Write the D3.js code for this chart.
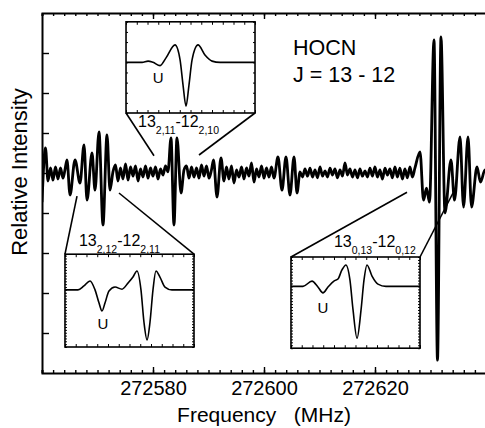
<!DOCTYPE html>
<html>
<head>
<meta charset="utf-8">
<script src="https://cdn.jsdelivr.net/npm/d3@7"></script>
<style>
  body { margin: 0; background: #fff; }
  svg { display: block; font-family: "Liberation Sans", Arial, Helvetica, sans-serif; }
</style>
</head>
<body>
<svg id="chart" width="485" height="428"></svg>
<script>
// Axis ticks
const freqMajor = [272580, 272600, 272620];
const freqMinor = d3.range(272560, 272641, 2);
const intensityTicks = [-4, -3, -2, -1, 0, 1, 2, 3];

// Main spectrum, [frequency MHz, relative intensity]
const spectrum = [
  [272560.00, -0.73], [272560.63, 0.63], [272561.08, -0.20], [272561.53, 0.13], [272561.98, -0.18],
  [272562.43, 0.15], [272562.88, -0.15], [272563.33, 0.13], [272563.78, -0.13], [272564.14, 0.08],
  // 13(2,12)-12(2,11) region
  [272564.50, 0.33], [272565.05, -0.55], [272565.95, 0.33], [272566.85, -0.25], [272567.57, 0.70],
  [272568.11, -0.68], [272569.01, 0.50], [272569.55, -0.43], [272570.27, 1.03], [272570.99, -1.30],
  [272571.71, 0.95], [272572.25, -0.43], [272572.79, 0.03],
  [272573.24, 0.20], [272573.69, -0.20], [272574.14, 0.13], [272574.59, -0.15], [272575.05, 0.23],
  [272575.50, -0.18], [272575.95, 0.15], [272576.40, -0.08], [272576.85, 0.18], [272577.30, -0.20],
  [272577.75, 0.10], [272578.20, -0.10], [272578.65, 0.18], [272579.10, -0.13], [272579.55, 0.13],
  [272580.00, -0.08], [272580.45, 0.15], [272580.90, -0.15], [272581.35, 0.10], [272581.80, -0.05],
  // 13(2,11)-12(2,10)
  [272582.25, 0.18], [272582.70, 0.03], [272583.24, 0.88], [272583.78, -1.30], [272584.32, 0.88],
  [272585.05, -0.50], [272585.59, 0.08],
  [272586.04, 0.18], [272586.49, -0.13], [272586.94, 0.15], [272587.39, -0.10], [272587.84, 0.13],
  [272588.29, -0.13], [272588.74, 0.20], [272589.19, -0.08], [272589.64, 0.18], [272590.09, -0.13],
  [272590.54, 0.08],
  [272590.90, 0.33], [272591.53, -0.60], [272592.25, 0.38], [272592.79, -0.20], [272593.24, 0.15],
  [272593.69, -0.15], [272594.14, 0.18], [272594.59, -0.25], [272595.05, 0.08], [272595.50, -0.10],
  [272595.95, 0.15], [272596.40, -0.15], [272596.85, 0.13], [272597.30, -0.08], [272597.75, 0.25],
  [272598.20, -0.23], [272598.65, 0.10], [272599.10, -0.10], [272599.55, 0.18], [272600.00, -0.13],
  [272600.45, 0.13], [272600.90, -0.10], [272601.35, 0.15], [272601.80, -0.13],
  [272602.52, 0.40], [272603.24, -0.43], [272603.96, 0.40], [272604.68, -0.55], [272605.41, 0.40],
  [272605.95, -0.50], [272606.49, 0.03],
  [272606.94, -0.10], [272607.39, 0.10], [272607.84, -0.08], [272608.29, 0.12], [272608.74, -0.10],
  [272609.19, 0.08], [272609.64, -0.12], [272610.09, 0.15], [272610.54, -0.08], [272610.99, 0.05],
  [272611.44, -0.10], [272611.89, 0.12], [272612.34, -0.05], [272612.79, 0.10], [272613.24, -0.12],
  [272613.69, 0.08], [272614.14, -0.08], [272614.59, 0.25], [272615.04, -0.05], [272615.49, 0.10],
  [272615.94, -0.10], [272616.39, 0.08], [272616.84, -0.12], [272617.29, 0.10], [272617.74, -0.08],
  [272618.19, 0.05], [272618.64, -0.10], [272619.09, 0.12], [272619.54, -0.08], [272619.99, 0.15],
  [272620.44, -0.10], [272620.89, 0.08], [272621.34, -0.15], [272621.79, 0.12], [272622.24, -0.05],
  [272622.69, 0.10], [272623.14, -0.12], [272623.59, 0.15], [272624.04, -0.10], [272624.49, 0.12],
  [272624.94, -0.15], [272625.39, 0.10], [272625.84, -0.12], [272626.29, 0.15], [272626.74, -0.10],
  [272627.19, 0.12],
  // 13(0,13)-12(0,12)
  [272628.11, 0.53], [272628.74, -0.68], [272629.28, -0.38], [272629.82, -0.73], [272630.63, 3.33],
  [272631.26, -4.68], [272631.89, 3.40], [272632.61, -1.00], [272633.69, 0.33], [272634.32, -0.68],
  [272635.32, 0.90], [272635.95, -0.85], [272636.76, 0.90], [272637.39, -0.85], [272638.38, 0.15],
  [272639.01, -0.23], [272639.82, 0.08], [272640.36, -0.05]
];

// Inset zooms, [channel 0-100, intensity]
const inset211 = [
  [0, 0], [12.4, 0], [17.1, 0.03], [20.9, 0], [26.4, -0.08], [31.0, 0.11], [38.0, 0.43],
  [41.9, 0.06], [44.2, -0.56], [46.5, -1.08], [48.8, -0.56], [51.2, 0.06], [55.8, 0.43],
  [61.2, 0.18], [66.7, 0.03], [72.9, 0], [100, 0]
];
const inset212 = [
  [0, 0], [10.1, 0], [14.7, 0.11], [19.4, 0.25], [23.3, 0], [26.4, -0.37], [28.7, -0.59],
  [31.0, -0.37], [34.1, -0.03], [38.8, 0.08], [44.2, 0.02], [48.8, 0.19], [52.7, 0.36],
  [55.8, 0.53], [58.9, 0], [61.2, -0.90], [63.6, -1.40], [65.9, -0.90], [68.2, 0], [70.5, 0.53],
  [73.6, 0.36], [77.5, 0.08], [82.9, 0], [100, 0]
];
const inset013 = [
  [0, 0], [9.3, 0], [16.3, 0.18], [20.9, -0.02], [24.8, -0.22], [28.7, -0.02], [33.3, 0.18],
  [36.4, 0.25], [39.5, 0.56], [42.6, 0.73], [45.7, 0.22], [48.1, -0.80], [51.2, -1.76],
  [54.3, -0.80], [56.6, 0.22], [58.9, 0.73], [62.8, 0.35], [67.4, 0.08], [73.6, 0], [100, 0]
];

const svg = d3.select('#chart');
const x = d3.scaleLinear().domain([272560, 272640]).range([42, 486]);
const y = d3.scaleLinear().domain([-5, 4]).range([373, 13]);

// Insets placed in main-chart coordinates
const insets = [
  { data: inset211, f: [272575.14, 272598.38], v: [3.78, 1.50], yDomain: [-1.25, 1], yStep: 0.25,
    labelBelow: true, label: ['13', '2,11', '-12', '2,10'], labelPos: [12, 14],
    u: [25, -0.51], link: [[272580.18, 0.43], [272588.29, 0.45]] },
  { data: inset212, f: [272564.14, 272587.39], v: [-2.03, -4.35], yDomain: [-1.6, 1], yStep: 0.08,
    labelBelow: false, label: ['13', '2,12', '-12', '2,11'], labelPos: [14, -8],
    u: [29.5, -1.09], link: [[272566.31, -0.58], [272573.87, -0.50]] },
  { data: inset013, f: [272604.86, 272628.11], v: [-2.10, -4.38], yDomain: [-2.1, 1], yStep: 0.1,
    labelBelow: false, label: ['13', '0,13', '-12', '0,12'], labelPos: [43, -10],
    u: [24.8, -0.91], link: [[272625.77, -0.48], [272634.05, -0.50]] }
];

// Main trace
const line = d3.line()
  .x(d => x(d[0]))
  .y(d => y(d[1]))
  .curve(d3.curveMonotoneX);

svg.append('clipPath').attr('id', 'plot-clip')
  .append('rect').attr('x', 42).attr('y', 0).attr('width', 450).attr('height', 373);

svg.append('path')
  .datum(spectrum)
  .attr('clip-path', 'url(#plot-clip)')
  .attr('fill', 'none')
  .attr('stroke', '#000')
  .attr('stroke-width', 2.8)
  .attr('stroke-linejoin', 'round')
  .attr('d', line);

// Axes
function styleAxis(g, width) {
  g.selectAll('.domain').attr('stroke-width', width);
  g.selectAll('.tick line').attr('stroke-width', 1.4);
}

const bottomAxis = svg.append('g').attr('transform', `translate(0,${y.range()[0]})`);
bottomAxis.call(d3.axisBottom(x).tickValues(freqMinor).tickSize(-3).tickFormat(''));
bottomAxis.append('g').call(d3.axisBottom(x).tickValues(freqMajor).tickSizeInner(-6).tickSizeOuter(0)
  .tickPadding(8).tickFormat(d3.format('d')))
  .call(g => g.select('.domain').remove());
bottomAxis.selectAll('text').attr('font-size', 20).attr('font-family', null).attr('fill', '#000');
styleAxis(bottomAxis, 2);

const topAxis = svg.append('g').attr('transform', `translate(0,${y.range()[1]})`);
topAxis.call(d3.axisTop(x).tickValues(freqMinor).tickSize(-3).tickFormat(''));
topAxis.append('g').call(d3.axisTop(x).tickValues(freqMajor).tickSize(-6).tickFormat(''))
  .call(g => g.select('.domain').remove());
styleAxis(topAxis, 2);

const leftAxis = svg.append('g').attr('transform', `translate(${x.range()[0]},0)`)
  .call(d3.axisLeft(y).tickValues(intensityTicks).tickSize(-7).tickSizeOuter(0).tickFormat(''));
styleAxis(leftAxis, 2);

// Axis titles
svg.append('text')
  .attr('x', 264).attr('y', 422)
  .attr('text-anchor', 'middle')
  .attr('font-size', 21)
  .attr('xml:space', 'preserve')
  .text('Frequency   (MHz)');

svg.append('text')
  .attr('transform', 'translate(27,172) rotate(-90)')
  .attr('text-anchor', 'middle')
  .attr('font-size', 22)
  .text('Relative Intensity');

// Molecule and transition
svg.append('text').attr('x', 293).attr('y', 55).attr('font-size', 21.5).text('HOCN');
svg.append('text').attr('x', 293).attr('y', 82).attr('font-size', 21.5).text('J = 13 - 12');

// Insets
insets.forEach(ins => {
  const x0 = x(ins.f[0]), x1 = x(ins.f[1]);
  const y0 = y(ins.v[0]), y1 = y(ins.v[1]);
  const ix = d3.scaleLinear().domain([0, 100]).range([x0, x1]);
  const iy = d3.scaleLinear().domain(ins.yDomain).range([y1, y0]);
  const g = svg.append('g');

  // connector lines
  const cornerY = ins.labelBelow ? y1 : y0;
  g.append('line').attr('x1', x0).attr('y1', cornerY)
    .attr('x2', x(ins.link[0][0])).attr('y2', y(ins.link[0][1]))
    .attr('stroke', '#000').attr('stroke-width', 1.6);
  g.append('line').attr('x1', x1).attr('y1', cornerY)
    .attr('x2', x(ins.link[1][0])).attr('y2', y(ins.link[1][1]))
    .attr('stroke', '#000').attr('stroke-width', 1.6);

  g.append('rect')
    .attr('x', x0).attr('y', y0)
    .attr('width', x1 - x0).attr('height', y1 - y0)
    .attr('fill', '#fff').attr('stroke', '#000').attr('stroke-width', 1.6);

  // inward ticks on all four sides
  const xt = d3.range(0, 100.01, 100 / 12);
  const yt = d3.range(ins.yDomain[0], ins.yDomain[1] + 1e-6, ins.yStep);
  const axes = [
    [d3.axisBottom(ix).tickValues(xt).tickSize(-3), `translate(0,${y1})`],
    [d3.axisTop(ix).tickValues(xt).tickSize(-3), `translate(0,${y0})`],
    [d3.axisLeft(iy).tickValues(yt).tickSize(-2), `translate(${x0},0)`],
    [d3.axisRight(iy).tickValues(yt).tickSize(-2), `translate(${x1},0)`]
  ];
  axes.forEach(([ax, tr]) => {
    g.append('g').attr('transform', tr)
      .call(ax.tickSizeOuter(0).tickFormat(''))
      .call(a => a.select('.domain').remove())
      .selectAll('.tick line').attr('stroke-width', 1);
  });

  g.append('path')
    .datum(ins.data)
    .attr('fill', 'none')
    .attr('stroke', '#000')
    .attr('stroke-width', 1.6)
    .attr('d', d3.line().x(d => ix(d[0])).y(d => iy(d[1])).curve(d3.curveMonotoneX));

  g.append('text')
    .attr('x', ix(ins.u[0])).attr('y', iy(ins.u[1]))
    .attr('text-anchor', 'middle')
    .attr('font-size', 15)
    .text('U');

  // transition label with subscripts
  const ly = ins.labelBelow ? y1 + ins.labelPos[1] : y0 + ins.labelPos[1];
  const t = g.append('text').attr('x', x0 + ins.labelPos[0]).attr('y', ly).attr('font-size', 16);
  t.append('tspan').text(ins.label[0]);
  t.append('tspan').attr('font-size', 10.5).attr('dy', 7).text(ins.label[1]);
  t.append('tspan').attr('dy', -7).text(ins.label[2]);
  t.append('tspan').attr('font-size', 10.5).attr('dy', 7).text(ins.label[3]);
});
</script>
</body>
</html>
